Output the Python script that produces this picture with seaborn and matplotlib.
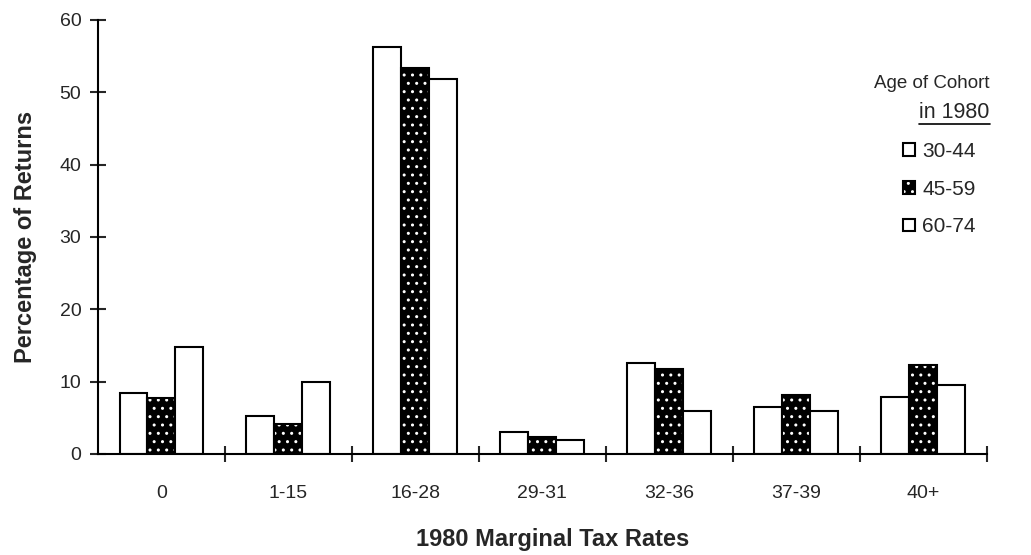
import pandas as pd
import matplotlib.pyplot as plt
import seaborn as sns
from matplotlib.lines import Line2D

rates = ["0", "1-15", "16-28", "29-31", "32-36", "37-39", "40+"]
cohorts = ["30-44", "45-59", "60-74"]
age_30_44 = [8.4, 5.2, 56.3, 3.1, 12.6, 6.5, 7.9]
age_45_59 = [7.7, 4.2, 53.4, 2.3, 11.8, 8.1, 12.3]
age_60_74 = [14.8, 10.0, 51.8, 2.0, 6.0, 6.0, 9.5]

df = pd.DataFrame({"rate": rates * 3,
                   "cohort": [c for c in cohorts for _ in rates],
                   "pct": age_30_44 + age_45_59 + age_60_74})

sns.set_style("white")
plt.rcParams["font.family"] = ["Liberation Sans", "DejaVu Sans"]

fig = plt.figure(figsize=(10.31, 5.55), dpi=100)
ax = fig.add_axes([0.095, 0.182, 0.862, 0.782])

sns.barplot(data=df, x="rate", y="pct", hue="cohort", order=rates, hue_order=cohorts,
            palette=["white", "black", "white"], edgecolor="black", linewidth=1.5,
            width=0.66, ax=ax, legend=False)

# dotted black bars
for p in ax.containers[1]:
    p.set_hatch("..")
    p._hatch_color = (1, 1, 1, 1)
plt.rcParams["hatch.linewidth"] = 1.0

ax.set_xlim(-0.5, 6.5)
ax.set_ylim(0, 60)
ax.set_yticks(range(0, 61, 10))
ax.set_xticks(range(len(rates)))
ax.set_xticklabels(rates)
ax.set_xticks([i + 0.5 for i in range(len(rates))], minor=True)
ax.tick_params(axis="x", which="major", length=0, pad=22, labelsize=14)
ax.tick_params(axis="x", which="minor", length=12, width=1.5, direction="inout", bottom=True)
ax.tick_params(axis="y", length=12, width=1.5, direction="inout", left=True, pad=6, labelsize=14)
for s in ["top", "right"]:
    ax.spines[s].set_visible(False)
for s in ["left", "bottom"]:
    ax.spines[s].set_linewidth(1.5)
    ax.spines[s].set_color("black")

ax.set_xlabel("1980 Marginal Tax Rates", fontsize=17, fontweight="bold")
ax.xaxis.set_label_coords(0.512, -0.170)
ax.set_ylabel("Percentage of Returns", fontsize=17, fontweight="bold", labelpad=16)

# legend
fig.text(0.960, 0.85, "Age of Cohort", fontsize=13.5, ha="right", va="center")
in_txt = fig.text(0.960, 0.797, "in 1980", fontsize=15.5, ha="right", va="center")
fig.canvas.draw()
bb = in_txt.get_window_extent().transformed(fig.transFigure.inverted())
fig.add_artist(Line2D([bb.x0, bb.x1], [0.776, 0.776], color="black", lw=1.2))
handles = [ax.containers[i][0] for i in range(3)]
leg = ax.legend(handles, cohorts, loc="upper left", bbox_to_anchor=(0.858, 0.778),
                bbox_transform=fig.transFigure, frameon=False, fontsize=15,
                handlelength=0.55, handleheight=0.55, handletextpad=0.35, labelspacing=0.9)

fig.savefig("out.png", dpi=100)
